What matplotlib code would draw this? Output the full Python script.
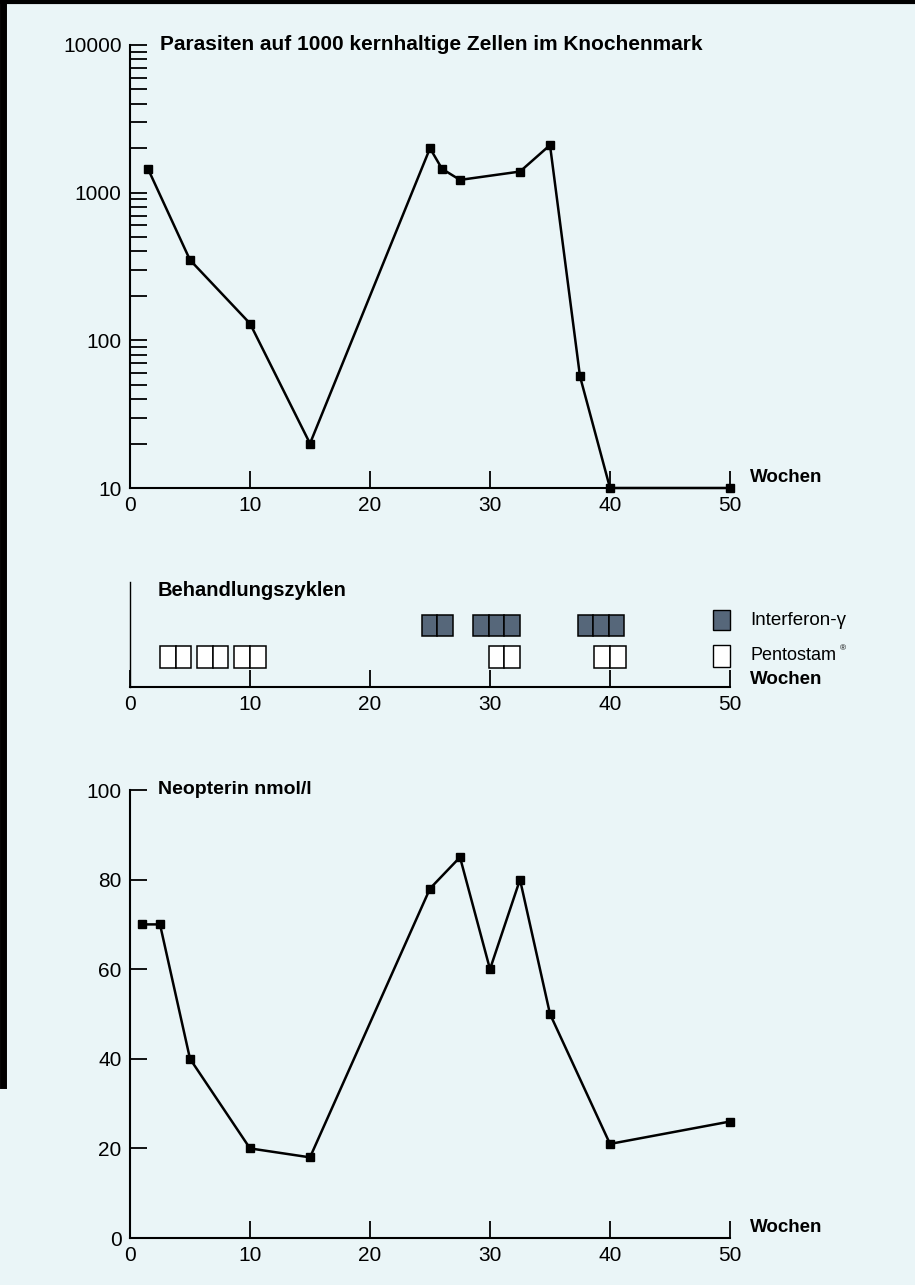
import matplotlib
matplotlib.use("Agg")
import matplotlib.pyplot as plt
from matplotlib.patches import Rectangle
from matplotlib.lines import Line2D

# Schrift wie im Buch (Helvetica-aehnlich)
plt.rcParams['font.family'] = ['Liberation Sans', 'DejaVu Sans']

# Daten oben: Parasiten auf 1000 kernhaltige Zellen
parasiten_wochen = [1.5, 5, 10, 15, 25, 26, 27.5, 32.5, 35, 37.5, 40, 50]
parasiten = [1450, 350, 130, 20, 2000, 1450, 1220, 1390, 2100, 57, 10, 10]

# Daten unten: Neopterin nmol/l
neopterin_wochen = [1, 2.5, 5, 10, 15, 25, 27.5, 30, 32.5, 35, 40, 50]
neopterin = [70, 70, 40, 20, 18, 78, 85, 60, 80, 50, 21, 26]

# Behandlungszyklen: Beginn (Woche) und Anzahl Felder je Block
interferon_beginn = [24.3, 28.6, 37.3]
interferon_felder = [2, 3, 3]
pentostam_beginn = [2.5, 5.6, 8.7, 29.9, 38.7]
pentostam_felder = [2, 2, 2, 2, 2]
feld_breite = 1.3

wochen_ticks = [0, 10, 20, 30, 40, 50]
log_ticks = [10, 100, 1000, 10000]
neopterin_ticks = [0, 20, 40, 60, 80, 100]

hintergrund = "#eaf5f7"
interferon_farbe = "#56677a"

B, H = 915, 1285
fig = plt.figure(figsize=(B / 100, H / 100), dpi=100, facecolor=hintergrund)


def achse_px(links, oben, rechts, unten):
    """Legt eine Achse in Pixelkoordinaten der Vorlage an."""
    ax = fig.add_axes([links / B, 1 - unten / H, (rechts - links) / B, (unten - oben) / H])
    ax.set_facecolor("none")
    for seite in ["top", "right"]:
        ax.spines[seite].set_visible(False)
    for seite in ["left", "bottom"]:
        ax.spines[seite].set_linewidth(1.5)
    ax.tick_params(direction="in", length=12, width=1.3, labelsize=15, pad=6)
    return ax


def text_px(x, y, s, **kw):
    fig.text(x / B, 1 - y / H, s, **kw)


# Oberes Diagramm (logarithmisch)
ax1 = achse_px(130, 45, 730, 488)
ax1.set_yscale("log")
ax1.plot(parasiten_wochen, parasiten, color="black", lw=1.8, marker="s", ms=5.5, clip_on=False)
ax1.set_xlim(0, 50)
ax1.set_ylim(10, 10000)
ax1.set_xticks(wochen_ticks, labels=[str(w) for w in wochen_ticks])
ax1.set_yticks(log_ticks, labels=[str(t) for t in log_ticks])
minor = [m * 10 ** e for e in range(1, 4) for m in range(2, 10)]
ax1.set_yticks(minor, minor=True)
ax1.yaxis.set_minor_formatter(plt.NullFormatter())
ax1.tick_params(which="minor", direction="in", length=12, width=1.3)
text_px(160, 45, "Parasiten auf 1000 kernhaltige Zellen im Knochenmark",
        fontsize=15, fontweight="bold", va="center")
text_px(750, 478, "Wochen", fontsize=13.5, fontweight="bold", va="center")

# Mittleres Diagramm: Behandlungszyklen
ax2 = achse_px(130, 582, 730, 687)
ax2.spines["left"].set_linewidth(1.0)
ax2.set_xlim(0, 50)
ax2.set_ylim(0, 1)
ax2.set_yticks([])
ax2.set_xticks(wochen_ticks, labels=[str(w) for w in wochen_ticks])


def bloecke(ax, beginn, felder, y0, hoehe, farbe):
    for start, n in zip(beginn, felder):
        for i in range(n):
            ax.add_patch(Rectangle((start + i * feld_breite, y0), feld_breite, hoehe,
                                   facecolor=farbe, edgecolor="black", lw=1.1))


bloecke(ax2, interferon_beginn, interferon_felder, 0.49, 0.2, interferon_farbe)
bloecke(ax2, pentostam_beginn, pentostam_felder, 0.18, 0.21, "white")
text_px(158, 591, "Behandlungszyklen", fontsize=14.5, fontweight="bold", va="center")

# Legende rechts
fig.add_artist(Rectangle((713 / B, 1 - 630 / H), 17 / B, 20 / H, transform=fig.transFigure,
                         facecolor=interferon_farbe, edgecolor="black", lw=1))
fig.add_artist(Rectangle((713 / B, 1 - 667 / H), 17 / B, 22 / H, transform=fig.transFigure,
                         facecolor="white", edgecolor="black", lw=1))
text_px(750, 620, "Interferon-γ", fontsize=13.5, va="center")
text_px(750, 656, "Pentostam", fontsize=13, va="center")
text_px(840, 649, "\u00ae", fontsize=6, va="center")
text_px(750, 680, "Wochen", fontsize=13.5, fontweight="bold", va="center")

# Unteres Diagramm: Neopterin
ax3 = achse_px(130, 790, 730, 1238)
ax3.plot(neopterin_wochen, neopterin, color="black", lw=1.8, marker="s", ms=5.5, clip_on=False)
ax3.set_xlim(0, 50)
ax3.set_ylim(0, 100)
ax3.set_xticks(wochen_ticks, labels=[str(w) for w in wochen_ticks])
ax3.set_yticks(neopterin_ticks, labels=[str(t) for t in neopterin_ticks])
text_px(158, 790, "Neopterin nmol/l", fontsize=14, fontweight="bold", va="center")
text_px(750, 1228, "Wochen", fontsize=13.5, fontweight="bold", va="center")

# Rand der Buchseite aus dem Scan
fig.add_artist(Line2D([0, 1], [1 - 2 / H, 1 - 2 / H], transform=fig.transFigure, color="black", lw=3))
fig.add_artist(Line2D([3 / B, 3 / B], [1, 1 - 1085 / H], transform=fig.transFigure, color="black", lw=5))

fig.savefig("out.png", dpi=100, facecolor=hintergrund)
